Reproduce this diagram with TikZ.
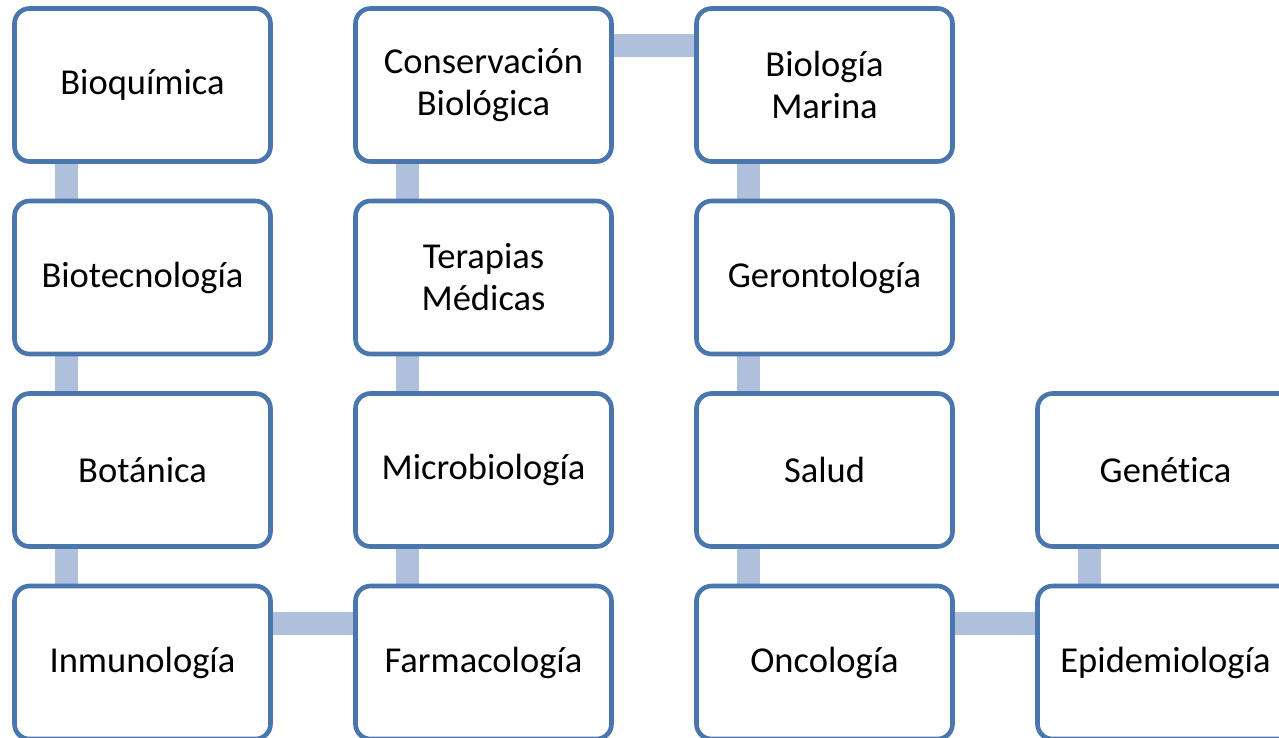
\documentclass[tikz,border=0pt]{standalone}
\usepackage{fontspec}
\setmainfont[Ligatures=NoCommon]{Carlito}
\usetikzlibrary{backgrounds}
\definecolor{boxline}{HTML}{4A76AE}
\definecolor{barcol}{HTML}{AFC0DC}
\tikzset{
  topic/.style={draw=boxline, line width=4.6pt, fill=white, rounded corners=15pt,
    minimum width=256pt, minimum height=153pt, outer sep=0pt, inner sep=0pt,
    anchor=north west, align=center, text=black,
    font=\fontsize{36.5}{42}\selectfont},
  bar/.style={draw=barcol, line width=23pt}
}
\begin{document}
\begin{tikzpicture}[x=1pt,y=-1pt]
\useasboundingbox (0,0) rectangle (1279,737);
\clip (0,0) rectangle (1279,737);
% columns: 14.5, 355.5, 696.5, 1037.5 ; rows: 8.5, 201, 393.5, 586
\node[topic] (bioq) at (14.5,8.5) {Bioquímica};
\node[topic] (biot) at (14.5,201) {Biotecnología};
\node[topic] (bota) at (14.5,393.5) {Botánica};
\node[topic] (inmu) at (14.5,586) {Inmunología};
\node[topic] (cons) at (355.5,8.5) {Conservación\\Biológica};
\node[topic] (tera) at (355.5,201) {Terapias\\Médicas};
\node[topic] (micr) at (355.5,393.5) {Microbiología};
\node[topic] (farm) at (355.5,586) {Farmacología};
\node[topic] (bmar) at (696.5,8.5) {Biología\\Marina};
\node[topic] (gero) at (696.5,201) {Gerontología};
\node[topic] (salu) at (696.5,393.5) {Salud};
\node[topic] (onco) at (696.5,586) {Oncología};
\node[topic] (gene) at (1037.5,393.5) {Genética};
\node[topic] (epid) at (1037.5,586) {Epidemiología};
\begin{scope}[on background layer]
\draw[bar] ([xshift=52pt]bioq.south west) -- ([xshift=52pt]biot.north west);
\draw[bar] ([xshift=52pt]biot.south west) -- ([xshift=52pt]bota.north west);
\draw[bar] ([xshift=52pt]bota.south west) -- ([xshift=52pt]inmu.north west);
\draw[bar] ([yshift=-37pt]inmu.north east) -- ([yshift=-37pt]farm.north west);
\draw[bar] ([xshift=52pt]farm.north west) -- ([xshift=52pt]micr.south west);
\draw[bar] ([xshift=52pt]micr.north west) -- ([xshift=52pt]tera.south west);
\draw[bar] ([xshift=52pt]tera.north west) -- ([xshift=52pt]cons.south west);
\draw[bar] ([yshift=-37pt]cons.north east) -- ([yshift=-37pt]bmar.north west);
\draw[bar] ([xshift=52pt]bmar.south west) -- ([xshift=52pt]gero.north west);
\draw[bar] ([xshift=52pt]gero.south west) -- ([xshift=52pt]salu.north west);
\draw[bar] ([xshift=52pt]salu.south west) -- ([xshift=52pt]onco.north west);
\draw[bar] ([yshift=-37pt]onco.north east) -- ([yshift=-37pt]epid.north west);
\draw[bar] ([xshift=52pt]epid.north west) -- ([xshift=52pt]gene.south west);
\end{scope}
\end{tikzpicture}
\end{document}
